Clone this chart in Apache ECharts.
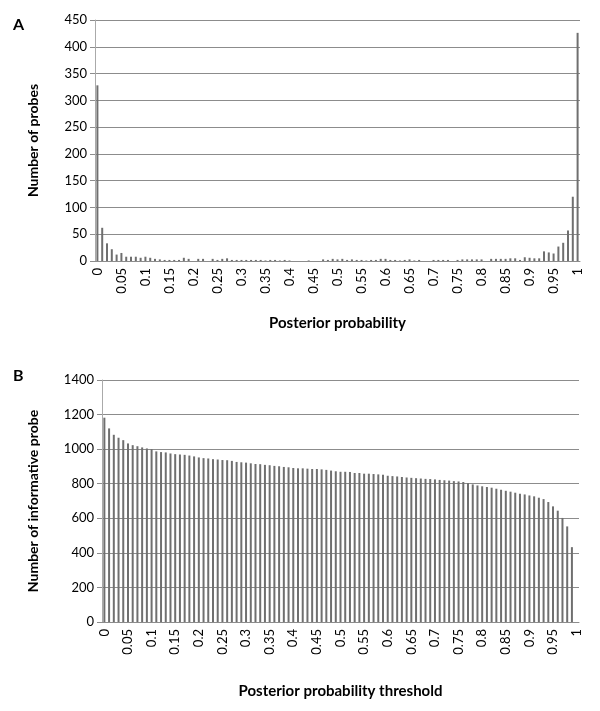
<!DOCTYPE html>
<html>
<head>
<meta charset="utf-8">
<script src="https://cdn.jsdelivr.net/npm/echarts@6/dist/echarts.min.js"></script>
<style>
html,body{margin:0;padding:0;background:#fff;}
#chart{width:600px;height:711px;}
</style>
</head>
<body>
<div id="chart"></div>
<script>
// Posterior probability categories 0, 0.01, ..., 1
var categories = [];
for (var i = 0; i <= 100; i++) { categories.push(String(+(i / 100).toFixed(2))); }

// Panel A: number of probes per posterior probability bin
var probesCount = [
  328,62,33,22,12,15,8,8,8,6,
  8,6,4,3,2,2,2,2,6,4,
  0,4,4,0,4,2,4,5,2,2,
  2,2,2,2,2,1,2,2,1,2,
  1,0,0,0,1,0,0,3,2,4,
  3,4,2,3,2,2,1,2,2,4,
  4,2,2,1,2,3,1,2,0,0,
  2,2,2,2,0,2,3,3,3,3,
  3,0,4,4,4,4,5,5,2,7,
  6,5,5,18,16,14,27,34,57,120,426
];

// Panel B: number of informative probes per posterior probability threshold
var informativeCount = [
  1182,1120,1083,1066,1052,1033,1023,1017,1010,1004,
  1000,987,983,981,975,971,969,967,963,958,
  952,948,946,942,940,937,936,932,926,924,
  922,918,914,913,909,907,903,901,897,895,
  891,889,889,887,885,885,883,880,876,872,
  869,869,868,862,862,858,858,856,854,852,
  846,844,842,839,836,834,832,830,828,827,
  825,822,820,818,815,813,810,804,796,790,
  785,781,777,771,765,759,754,748,742,738,
  732,727,719,711,694,669,644,602,553,433,0
];

var FONT = 'Lato';
var gridColor = '#8c8c8c';
var barColor = '#6f6f6f';

var chart = echarts.init(document.getElementById('chart'), null, {renderer: 'canvas'});

function xAxisOf(gi, name, gap) {
  return {
    type: 'category', gridIndex: gi, data: categories,
    name: name, nameLocation: 'middle', nameGap: gap,
    nameTextStyle: {fontFamily: FONT, fontWeight: 'bold', fontSize: 15, color: '#000'},
    axisLine: {show: true, lineStyle: {color: gridColor, width: 1}},
    axisTick: {show: false},
    axisLabel: {interval: 4, rotate: 90, fontFamily: FONT, fontSize: 13, color: '#000', margin: 7}
  };
}
function yAxisOf(gi, max, interval, name, gap) {
  return {
    type: 'value', gridIndex: gi, min: 0, max: max, interval: interval,
    name: name, nameLocation: 'middle', nameGap: gap,
    nameTextStyle: {fontFamily: FONT, fontWeight: 'bold', fontSize: 14, color: '#000'},
    axisLine: {show: true, lineStyle: {color: '#aaaaaa', width: 1}},
    axisTick: {show: true, length: 5, lineStyle: {color: gridColor}},
    axisLabel: {fontFamily: FONT, fontSize: 13, color: '#000', margin: 8,
      formatter: function (v) { return String(v); }},
    splitLine: {show: true, lineStyle: {color: gridColor, width: 1}}
  };
}

chart.setOption({
  animation: false,
  backgroundColor: '#fff',
  title: [
    {text: 'A', left: 8, top: 12, textStyle: {fontFamily: FONT, fontWeight: 'bold', fontSize: 16, color: '#000'}},
    {text: 'B', left: 8, top: 363, textStyle: {fontFamily: FONT, fontWeight: 'bold', fontSize: 16, color: '#000'}}
  ],
  grid: [
    {left: 95, right: 20, top: 20, height: 241},
    {left: 102, right: 21, top: 380, height: 242}
  ],
  xAxis: [
    xAxisOf(0, 'Posterior probability', 55),
    xAxisOf(1, 'Posterior probability threshold', 62)
  ],
  yAxis: [
    yAxisOf(0, 450, 50, 'Number of probes', 55),
    yAxisOf(1, 1400, 200, 'Number of informative probe', 62)
  ],
  series: [
    {type: 'bar', xAxisIndex: 0, yAxisIndex: 0, data: probesCount, barWidth: 2,
     itemStyle: {color: barColor}},
    {type: 'bar', xAxisIndex: 1, yAxisIndex: 1, data: informativeCount, barWidth: 2,
     itemStyle: {color: barColor}}
  ]
});
</script>
</body>
</html>
